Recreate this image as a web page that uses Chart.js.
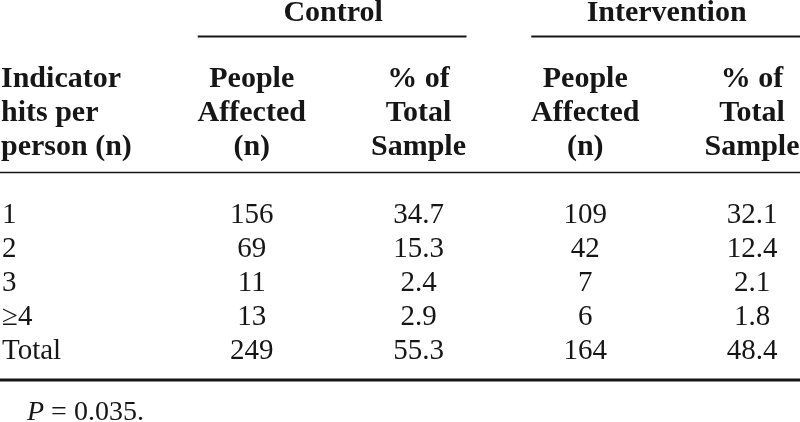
<!DOCTYPE html>
<html>
<head>
<meta charset="utf-8">
<script src="https://cdn.jsdelivr.net/npm/chart.js@4.4.1/dist/chart.umd.min.js"></script>
<style>
	html, body { margin: 0; padding: 0; background: #fff; }
	#wrap { width: 800px; height: 422px; position: relative; }
</style>
</head>
<body>
<div id="wrap"><canvas id="chart"></canvas></div>
<script>
// table content
const groupLabels = ['Control', 'Intervention'];
const stubHeader = ['Indicator', 'hits per', 'person (n)'];
const peopleHeader = ['People', 'Affected', '(n)'];
const pctHeader = ['% of', 'Total', 'Sample'];
const rowLabels = ['1', '2', '3', '\u22654', 'Total'];
const controlPeople = [156, 69, 11, 13, 249];
const controlPct = [34.7, 15.3, 2.4, 2.9, 55.3];
const interventionPeople = [109, 42, 7, 6, 164];
const interventionPct = [32.1, 12.4, 2.1, 1.8, 48.4];
const pValue = '0.035';

// grid: columns and line slots
const columnKeys = ['stub', 'cPeople', 'cPct', 'iPeople', 'iPct'];
const headerSlots = ['h0', 'h1', 'h2'];
const yLabels = ['group', '_a'].concat(headerSlots, ['_b'], rowLabels, ['_c', 'note']);

const INK = '#161616';
const FONT = '"Liberation Serif", "Times New Roman", serif';

function column(key, values, digits) {
	return {
		label: key,
		data: rowLabels.map((r, i) => ({
			x: key,
			y: r,
			text: digits ? values[i].toFixed(digits) : String(values[i])
		}))
	};
}

const tablePlugin = {
	id: 'tableText',
	afterDatasetsDraw(chart) {
		const ctx = chart.ctx;
		const x = chart.scales.x;
		const y = chart.scales.y;
		const W = chart.width;

		const rule = (x0, x1, slot, w) => {
			const py = y.getPixelForValue(slot);
			ctx.save();
			ctx.strokeStyle = INK;
			ctx.lineWidth = w;
			ctx.beginPath();
			ctx.moveTo(x0, py);
			ctx.lineTo(x1, py);
			ctx.stroke();
			ctx.restore();
		};

		ctx.save();
		ctx.fillStyle = INK;

		// group titles and their underlines
		ctx.font = 'bold 30px ' + FONT;
		ctx.textAlign = 'center';
		ctx.textBaseline = 'alphabetic';
		[['cPeople', 'cPct'], ['iPeople', 'iPct']].forEach((pair, g) => {
			const a = x.getPixelForValue(pair[0]);
			const b = x.getPixelForValue(pair[1]);
			ctx.fillText(groupLabels[g], (a + b) / 2 - 2, y.getPixelForValue(0.3));
			rule(a - 54, Math.min(b + 48, W), 0.75, 2);
		});

		// column headers
		ctx.textBaseline = 'middle';
		headerSlots.forEach((slot, k) => {
			const py = y.getPixelForValue(slot);
			ctx.textAlign = 'left';
			ctx.fillText(stubHeader[k], 1, py);
			ctx.textAlign = 'center';
			ctx.fillText(peopleHeader[k], x.getPixelForValue('cPeople'), py);
			ctx.fillText(pctHeader[k], x.getPixelForValue('cPct'), py);
			ctx.fillText(peopleHeader[k], x.getPixelForValue('iPeople'), py);
			ctx.fillText(pctHeader[k], x.getPixelForValue('iPct'), py);
		});

		// body
		ctx.font = '29px ' + FONT;
		ctx.textAlign = 'left';
		rowLabels.forEach(r => ctx.fillText(r, 2, y.getPixelForValue(r)));
		ctx.textAlign = 'center';
		chart.data.datasets.forEach((ds, i) => {
			chart.getDatasetMeta(i).data.forEach((pt, j) => {
				ctx.fillText(ds.data[j].text, pt.x, pt.y);
			});
		});

		// footnote
		const ny = y.getPixelForValue(11.8);
		ctx.textAlign = 'left';
		ctx.font = 'italic 28px ' + FONT;
		ctx.fillText('P', 27, ny);
		const pw = ctx.measureText('P').width;
		ctx.font = '28px ' + FONT;
		ctx.fillText(' = ' + pValue + '.', 27 + pw, ny);
		ctx.restore();

		// horizontal rules
		rule(0, W, 4.75, 1.5);
		rule(0, W, 10.85, 3);
	}
};

new Chart(document.getElementById('chart'), {
	type: 'line',
	data: {
		datasets: [
			column('cPeople', controlPeople, 0),
			column('cPct', controlPct, 1),
			column('iPeople', interventionPeople, 0),
			column('iPct', interventionPct, 1)
		]
	},
	options: {
		responsive: true,
		maintainAspectRatio: false,
		animation: false,
		events: [],
		showLine: false,
		pointRadius: 0,
		layout: { padding: { left: 85, right: 48, top: 11, bottom: 3 } },
		scales: {
			x: { type: 'category', labels: columnKeys, offset: false, display: false },
			y: { type: 'category', labels: yLabels, offset: false, display: false }
		},
		plugins: {
			legend: { display: false },
			tooltip: { enabled: false }
		}
	},
	plugins: [tablePlugin]
});
</script>
</body>
</html>
